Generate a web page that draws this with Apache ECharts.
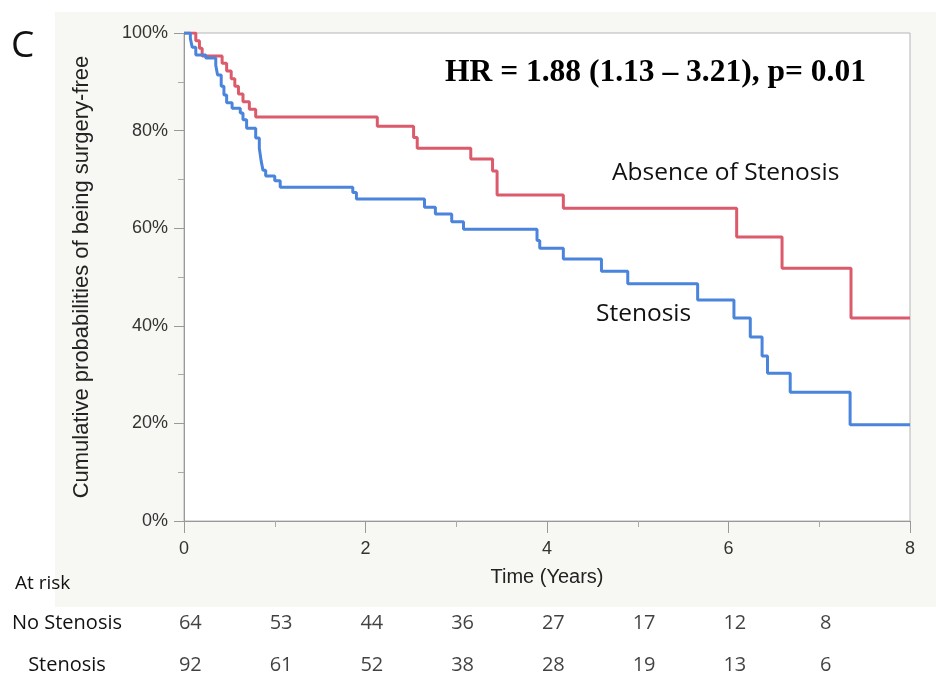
<!DOCTYPE html>
<html>
<head>
<meta charset="utf-8">
<script src="https://cdn.jsdelivr.net/npm/echarts@6/dist/echarts.min.js"></script>
<style>
  html, body { margin: 0; padding: 0; background: #fff; }
  #chart { width: 936px; height: 686px; }
</style>
</head>
<body>
<div id="chart"></div>
<script>
// Kaplan-Meier steps (time in years, % surgery-free)
const noStenosisTimes = [0, 0.13, 0.17, 0.2, 0.42, 0.47, 0.52, 0.56, 0.6, 0.65,
  0.72, 0.79, 2.13, 2.53, 2.57, 3.16, 3.40, 3.45, 4.18, 6.09, 6.59, 7.35, 8]
const noStenosisSurv = [100, 98.4, 96.9, 95.3, 93.8, 92.2, 90.6, 89.1, 87.5, 85.9,
  84.4, 82.8, 80.9, 78.6, 76.4, 74.2, 71.7, 66.8, 64.1, 58.2, 51.8, 41.6, 41.6]

const stenosisTimes = [0, 0.07, 0.09, 0.13, 0.24, 0.35, 0.37, 0.41, 0.44, 0.47,
  0.53, 0.62, 0.65, 0.69, 0.79, 0.83, 0.85, 0.87, 0.9, 1.0,
  1.06, 1.86, 1.9, 2.65, 2.77, 2.95, 3.08, 3.89, 3.92, 4.18,
  4.6, 4.89, 5.66, 6.06, 6.24, 6.37, 6.43, 6.68, 7.34, 8]
const stenosisSurv = [100, 98.9, 97.1, 95.5, 94.9, 93.4, 91.4, 89.1, 87.3, 85.7,
  84.6, 83.6, 82.2, 80.5, 78.5, 76.4, 73.8, 71.9, 70.7, 69.7,
  68.4, 67.3, 66.0, 64.3, 62.9, 61.3, 59.8, 57.5, 55.9, 53.7,
  51.2, 48.6, 45.3, 41.6, 37.7, 33.8, 30.3, 26.4, 19.7, 19.7]

// numbers at risk, one column per year
const atRiskYears = [0, 1, 2, 3, 4, 5, 6, 7]
const atRiskNoStenosis = [64, 53, 44, 36, 27, 17, 12, 8]
const atRiskStenosis = [92, 61, 52, 38, 28, 19, 13, 6]
const atRiskRows = ['Stenosis', 'No Stenosis']

const chart = echarts.init(document.getElementById('chart'))

const axisFont = { fontFamily: 'Liberation Sans', fontSize: 18, color: '#333' }
const nameFont = { fontFamily: 'Liberation Sans', fontSize: 20, color: '#222' }
const tableFont = { fontFamily: 'Open Sans', fontSize: 20, color: '#111' }

chart.setOption({
  animation: false,
  grid: [
    {
      left: 184, right: 26, top: 33, bottom: 165,
      show: true, backgroundColor: '#fff', borderColor: '#b5b5b5', borderWidth: 1
    },
    { left: 184, right: 26, top: 602, height: 88 }
  ],
  xAxis: [
    {
      gridIndex: 0,
      type: 'value', min: 0, max: 8, interval: 2,
      name: 'Time (Years)', nameLocation: 'middle', nameGap: 46,
      nameTextStyle: nameFont,
      axisLine: { lineStyle: { color: '#999' } },
      axisTick: { length: 12, lineStyle: { color: '#999' } },
      minorTick: { show: true, splitNumber: 2, length: 6, lineStyle: { color: '#aaa' } },
      axisLabel: Object.assign({ margin: 19 }, axisFont),
      splitLine: { show: false }
    },
    {
      gridIndex: 1,
      type: 'value', min: -0.07, max: 7.93,
      show: false
    }
  ],
  yAxis: [
    {
      gridIndex: 0,
      type: 'value', min: 0, max: 100, interval: 20,
      name: 'Cumulative probabilities of being surgery-free',
      nameLocation: 'middle', nameGap: 91,
      nameTextStyle: Object.assign({}, nameFont, { fontSize: 22 }),
      axisLine: { show: true, lineStyle: { color: '#999' } },
      axisTick: { length: 10, lineStyle: { color: '#999' } },
      minorTick: { show: true, splitNumber: 2, length: 6, lineStyle: { color: '#aaa' } },
      axisLabel: Object.assign({ margin: 16, formatter: '{value}%' }, axisFont),
      splitLine: { show: false }
    },
    {
      gridIndex: 1,
      type: 'category', data: atRiskRows,
      axisLine: { show: false }, axisTick: { show: false },
      axisLabel: Object.assign({ align: 'center', margin: 117 }, tableFont)
    }
  ],
  series: [
    {
      name: 'Absence of Stenosis', type: 'line', step: 'end',
      xAxisIndex: 0, yAxisIndex: 0,
      data: noStenosisTimes.map((t, i) => [t, noStenosisSurv[i]]),
      showSymbol: false, z: 3,
      lineStyle: { color: '#db5a6c', width: 3 }
    },
    {
      name: 'Stenosis', type: 'line', step: 'end',
      xAxisIndex: 0, yAxisIndex: 0,
      data: stenosisTimes.map((t, i) => [t, stenosisSurv[i]]),
      showSymbol: false, z: 4,
      lineStyle: { color: '#4a84dc', width: 3 }
    },
    {
      type: 'scatter', xAxisIndex: 1, yAxisIndex: 1,
      symbolSize: 0, silent: true,
      data: atRiskYears.map((t, i) => [t, 'No Stenosis', atRiskNoStenosis[i]]),
      label: Object.assign({ show: true, position: 'inside',
        formatter: p => p.data[2] }, tableFont)
    },
    {
      type: 'scatter', xAxisIndex: 1, yAxisIndex: 1,
      symbolSize: 0, silent: true,
      data: atRiskYears.map((t, i) => [t, 'Stenosis', atRiskStenosis[i]]),
      label: Object.assign({ show: true, position: 'inside',
        formatter: p => p.data[2] }, tableFont)
    }
  ],
  graphic: [
    { type: 'rect', z: -10, shape: { x: 55, y: 12, width: 881, height: 595 },
      style: { fill: '#f7f7f3' } },
    { type: 'text', left: 11, top: 28,
      style: { text: 'C', font: '37px "Open Sans"', fill: '#111' } },
    { type: 'text', left: 445, top: 57, z: 10,
      style: { text: 'HR = 1.88 (1.13 \u2013 3.21), p= 0.01',
        font: 'bold 31.5px "Liberation Serif"', fill: '#000' } },
    { type: 'text', left: 612, top: 161, z: 10,
      style: { text: 'Absence of Stenosis', font: '24.5px "Open Sans"', fill: '#111' } },
    { type: 'text', left: 596, top: 302, z: 10,
      style: { text: 'Stenosis', font: '24.5px "Open Sans"', fill: '#111' } },
    { type: 'text', left: 15, top: 574,
      style: { text: 'At risk', font: '19px "Open Sans"', fill: '#111' } }
  ]
})
</script>
</body>
</html>
